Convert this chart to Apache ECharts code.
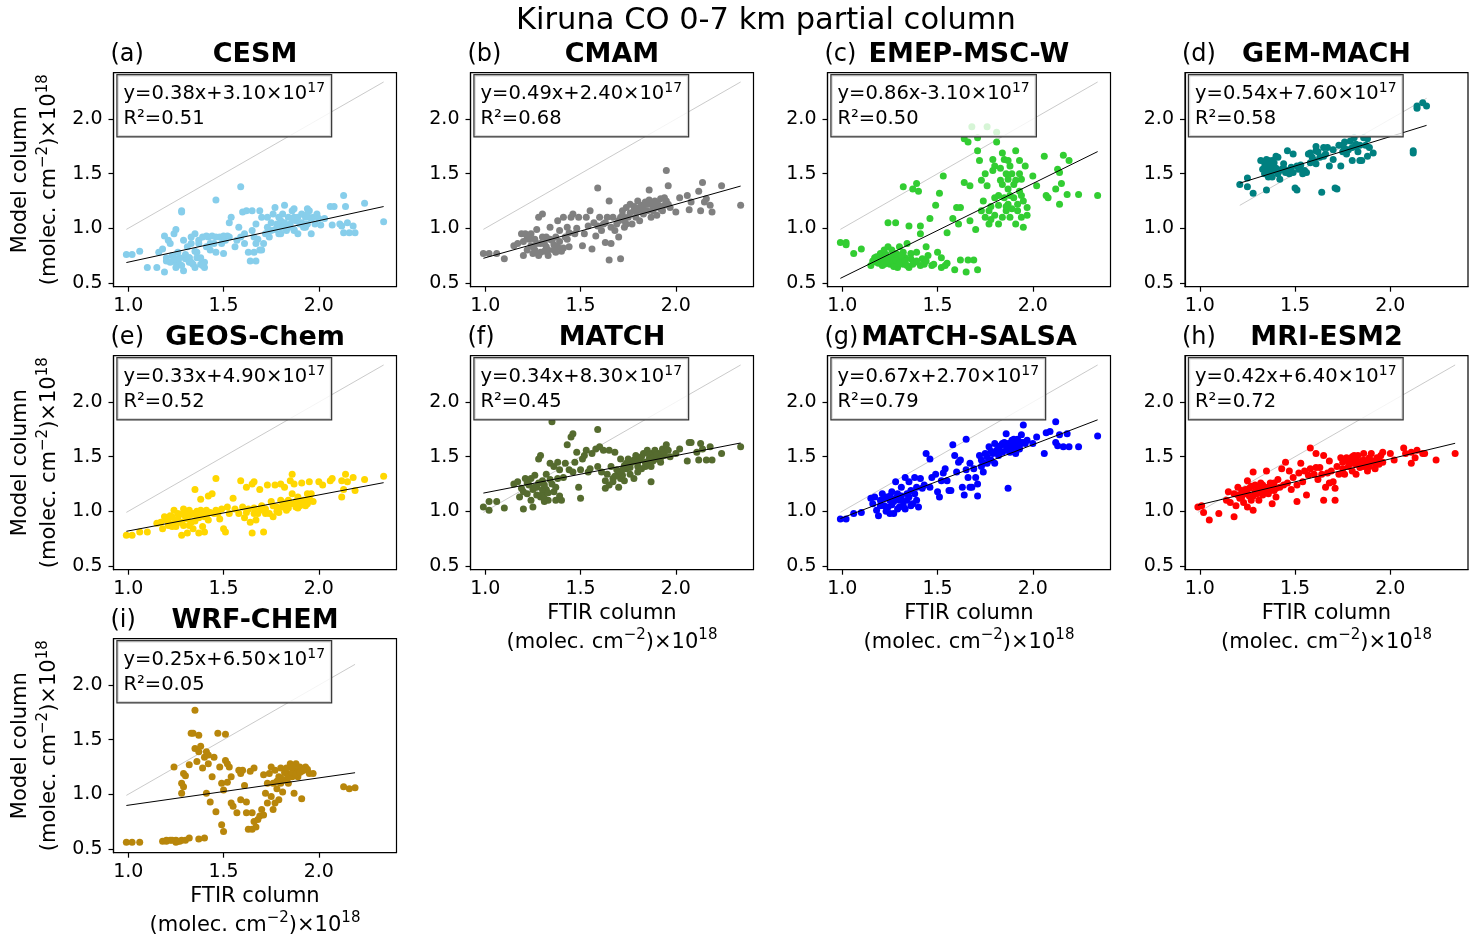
<!DOCTYPE html>
<html>
<head>
<meta charset="utf-8">
<script src="https://cdn.jsdelivr.net/npm/echarts@6/dist/echarts.min.js"></script>
<style>
html, body { margin: 0; padding: 0; background: #fff; }
#chart { width: 1482px; height: 945px; }
</style>
</head>
<body>
<div id="chart"></div>
<script>
// panel descriptions
var models = ["CESM", "CMAM", "EMEP-MSC-W", "GEM-MACH", "GEOS-Chem", "MATCH", "MATCH-SALSA", "MRI-ESM2", "WRF-CHEM"];
var letters = ["(a)", "(b)", "(c)", "(d)", "(e)", "(f)", "(g)", "(h)", "(i)"];
var colors = ["#87CEEB", "#808080", "#32CD32", "#008080", "#FFD700", "#556B2F", "#0000FF", "#FF0000", "#B8860B"];
var slopes = [0.38, 0.49, 0.86, 0.54, 0.33, 0.34, 0.67, 0.42, 0.25];
var intercepts = [3.10, 2.40, -3.10, 7.60, 4.90, 8.30, 2.70, 6.40, 6.50]; // x10^17
var r2 = ["0.51", "0.68", "0.50", "0.58", "0.52", "0.45", "0.79", "0.72", "0.05"];
var xTicks = [1.0, 1.5, 2.0];
var yTicks = [0.5, 1.0, 1.5, 2.0];

// [FTIR, model] in 10^18 molec/cm2
var cesm = [[0.99,0.76],[1.02,0.76],[1.06,0.79],[1.10,0.64],[1.15,0.64],[1.16,0.78],[1.18,0.81],[1.19,0.60],[1.19,0.93],[1.20,0.70],[1.21,0.89],[1.22,0.86],[1.23,0.75],[1.24,0.95],[1.24,0.73],[1.25,0.99],[1.25,0.69],[1.26,0.78],[1.27,0.67],[1.28,1.15],[1.28,1.16],[1.29,0.89],[1.29,0.61],[1.30,0.72],[1.31,0.83],[1.32,0.69],[1.32,0.73],[1.33,0.86],[1.34,0.67],[1.35,0.79],[1.35,0.95],[1.36,0.73],[1.37,0.89],[1.38,0.67],[1.39,0.92],[1.40,0.64],[1.40,0.69],[1.41,0.83],[1.42,0.92],[1.43,0.80],[1.44,0.93],[1.45,0.86],[1.46,1.26],[1.46,0.78],[1.48,0.92],[1.49,0.86],[1.50,0.77],[1.51,0.89],[1.52,0.93],[1.53,1.05],[1.54,1.10],[1.56,0.83],[1.57,0.89],[1.58,1.01],[1.59,1.38],[1.59,0.92],[1.60,1.15],[1.61,0.95],[1.62,1.16],[1.63,0.78],[1.64,0.70],[1.65,0.98],[1.65,1.16],[1.66,0.78],[1.67,0.70],[1.67,1.04],[1.68,0.90],[1.69,1.16],[1.69,0.80],[1.70,1.10],[1.71,0.86],[1.72,0.95],[1.73,1.10],[1.73,1.01],[1.74,0.92],[1.75,0.98],[1.76,1.13],[1.77,1.19],[1.78,1.04],[1.79,0.95],[1.80,1.07],[1.80,1.01],[1.81,1.13],[1.82,1.21],[1.83,0.98],[1.84,1.10],[1.85,1.04],[1.86,1.16],[1.87,0.98],[1.87,1.10],[1.88,1.07],[1.89,0.95],[1.90,1.04],[1.91,1.13],[1.92,1.01],[1.93,1.10],[1.94,1.18],[1.94,1.04],[1.95,1.16],[1.96,0.95],[1.97,1.10],[1.98,1.04],[1.99,1.13],[2.00,1.09],[2.01,1.03],[2.03,1.09],[2.06,1.20],[2.07,1.03],[2.08,1.20],[2.11,1.04],[2.12,1.02],[2.13,0.96],[2.13,1.30],[2.14,1.20],[2.15,1.05],[2.16,0.96],[2.18,1.02],[2.19,0.96],[2.24,1.23],[2.34,1.06],
    [1.20,0.73],[1.22,0.69],[1.24,0.72],[1.25,0.64],[1.27,0.73],[1.28,0.66],[1.30,0.76],[1.32,0.73],[1.33,0.69],[1.35,0.64],[1.36,0.78],[1.38,0.73],[1.39,0.66],[1.33,0.92],[1.37,0.86],[1.41,0.93],[1.43,0.86],[1.46,0.92],[1.50,0.93],[1.53,0.92],[1.73,0.95],[1.75,1.05],[1.77,0.99],[1.79,1.10],[1.80,0.95],[1.82,1.05],[1.84,1.01],[1.86,1.09],[1.87,0.99],[1.89,1.10],[1.91,1.05],[1.93,1.01],[1.94,1.13],[1.96,1.09],[1.87,1.18],[1.81,1.01],[1.61,0.86],[1.67,0.86],[1.70,0.80],[1.66,0.92]];
var cmam = [[0.99,0.77],[1.02,0.77],[1.06,0.77],[1.10,0.72],[1.15,0.84],[1.17,0.86],[1.19,0.95],[1.20,0.75],[1.21,0.95],[1.22,0.80],[1.23,0.90],[1.24,0.95],[1.25,0.83],[1.25,0.77],[1.26,0.90],[1.27,0.99],[1.28,1.10],[1.28,0.75],[1.29,0.86],[1.30,1.13],[1.31,0.79],[1.32,0.92],[1.32,0.83],[1.33,0.75],[1.34,1.01],[1.35,0.89],[1.36,0.80],[1.37,0.92],[1.38,0.83],[1.38,1.07],[1.39,0.98],[1.40,0.79],[1.41,1.10],[1.42,0.92],[1.43,1.01],[1.44,0.83],[1.45,1.10],[1.46,1.13],[1.47,0.95],[1.49,1.10],[1.51,0.84],[1.52,0.95],[1.53,1.10],[1.55,1.16],[1.56,0.81],[1.58,0.93],[1.59,1.37],[1.59,1.02],[1.60,1.10],[1.61,0.98],[1.62,1.04],[1.63,0.87],[1.64,1.10],[1.65,0.71],[1.65,1.25],[1.66,1.01],[1.66,0.86],[1.67,1.10],[1.68,0.98],[1.69,1.04],[1.70,0.92],[1.71,1.10],[1.71,0.72],[1.72,1.16],[1.73,1.07],[1.73,1.01],[1.74,1.19],[1.75,1.10],[1.76,1.22],[1.77,1.04],[1.78,1.16],[1.79,1.10],[1.80,1.25],[1.80,1.16],[1.81,1.07],[1.82,1.21],[1.83,1.13],[1.84,1.24],[1.85,1.16],[1.86,1.35],[1.87,1.10],[1.87,1.22],[1.88,1.16],[1.89,1.25],[1.90,1.12],[1.91,1.21],[1.92,1.27],[1.93,1.16],[1.94,1.28],[1.94,1.21],[1.95,1.53],[1.96,1.39],[1.97,1.19],[2.00,1.15],[2.02,1.28],[2.06,1.30],[2.07,1.17],[2.08,1.24],[2.12,1.34],[2.13,1.16],[2.14,1.42],[2.15,1.24],[2.16,1.27],[2.18,1.21],[2.19,1.15],[2.24,1.39],[2.34,1.21],
    [1.20,0.88],[1.22,0.92],[1.24,0.84],[1.26,0.80],[1.27,0.86],[1.29,0.78],[1.30,0.92],[1.31,0.86],[1.33,0.80],[1.34,0.90],[1.36,0.85],[1.37,0.78],[1.39,0.88],[1.41,0.82],[1.43,0.90],[1.44,0.96],[1.48,1.00],[1.54,1.02],[1.57,1.05],[1.63,1.05],[1.70,1.07],[1.72,1.12],[1.74,1.04],[1.76,1.14],[1.78,1.20],[1.81,1.19],[1.83,1.18],[1.85,1.22],[1.88,1.20],[1.90,1.23],[1.92,1.18],[1.95,1.25],[1.96,1.22],[1.89,1.19],[1.86,1.26]];
var emep = [[0.99,0.87],[1.02,0.87],[1.02,0.85],[1.06,0.77],[1.10,0.81],[1.15,0.66],[1.17,0.73],[1.18,0.69],[1.20,0.77],[1.21,0.66],[1.22,0.80],[1.23,0.72],[1.24,1.05],[1.24,0.83],[1.25,0.67],[1.25,0.73],[1.26,0.80],[1.27,0.69],[1.28,1.05],[1.28,0.77],[1.29,0.64],[1.30,0.83],[1.31,0.72],[1.32,1.38],[1.32,0.78],[1.32,0.67],[1.33,0.73],[1.34,0.86],[1.35,1.02],[1.35,0.64],[1.36,0.77],[1.37,1.36],[1.38,0.69],[1.39,1.41],[1.39,0.78],[1.40,1.34],[1.41,0.95],[1.41,1.02],[1.42,0.72],[1.43,0.67],[1.44,0.83],[1.45,0.75],[1.46,1.09],[1.47,0.66],[1.49,1.21],[1.50,0.78],[1.51,1.32],[1.52,0.64],[1.53,1.48],[1.52,0.73],[1.55,0.96],[1.55,0.68],[1.58,1.09],[1.59,0.62],[1.60,1.19],[1.61,1.04],[1.62,1.19],[1.62,0.71],[1.64,1.82],[1.64,1.42],[1.65,0.60],[1.66,0.71],[1.66,1.79],[1.67,1.39],[1.67,1.07],[1.68,1.93],[1.69,0.71],[1.70,0.99],[1.71,1.83],[1.71,1.71],[1.71,0.62],[1.72,1.62],[1.73,1.16],[1.73,1.44],[1.74,1.25],[1.75,1.50],[1.75,1.10],[1.76,1.93],[1.76,1.39],[1.77,1.04],[1.77,1.16],[1.79,1.53],[1.79,1.63],[1.80,1.28],[1.80,1.57],[1.81,1.88],[1.81,1.79],[1.82,1.21],[1.82,1.04],[1.83,1.44],[1.84,1.69],[1.84,1.10],[1.85,1.63],[1.85,1.28],[1.86,1.50],[1.86,1.16],[1.87,1.62],[1.87,1.36],[1.87,1.22],[1.88,1.57],[1.88,1.10],[1.89,1.50],[1.90,1.28],[1.91,1.04],[1.91,1.71],[1.91,1.44],[1.92,1.16],[1.93,1.62],[1.93,1.34],[1.94,1.10],[1.94,1.45],[1.95,1.25],[1.95,1.01],[1.96,1.57],[1.97,1.19],[1.97,1.12],[2.00,1.48],[2.02,1.39],[2.06,1.66],[2.07,1.30],[2.08,1.28],[2.12,1.36],[2.13,1.54],[2.14,1.22],[2.14,1.51],[2.15,1.41],[2.16,1.67],[2.18,1.31],[2.19,1.62],[2.24,1.31],[2.34,1.30],
    [1.16,0.70],[1.18,0.74],[1.19,0.68],[1.21,0.72],[1.22,0.67],[1.23,0.76],[1.24,0.70],[1.26,0.74],[1.27,0.65],[1.28,0.71],[1.29,0.76],[1.30,0.68],[1.31,0.75],[1.33,0.70],[1.34,0.66],[1.36,0.72],[1.37,0.67],[1.39,0.70],[1.41,0.66],[1.44,0.70],[1.48,0.67],[1.54,0.66],[1.78,1.20],[1.80,1.12],[1.82,1.30],[1.84,1.40],[1.86,1.20],[1.88,1.30],[1.89,1.18],[1.90,1.40],[1.92,1.22],[1.93,1.50],[1.94,1.30],[1.78,1.08],[1.83,1.55],[1.87,1.45]];
var gem = [[1.21,1.40],[1.25,1.46],[1.25,1.38],[1.28,1.32],[1.32,1.62],[1.33,1.54],[1.34,1.60],[1.34,1.50],[1.35,1.63],[1.35,1.56],[1.35,1.35],[1.36,1.47],[1.36,1.59],[1.37,1.53],[1.38,1.62],[1.38,1.47],[1.39,1.56],[1.40,1.66],[1.41,1.50],[1.41,1.65],[1.42,1.45],[1.43,1.54],[1.44,1.59],[1.45,1.51],[1.46,1.71],[1.47,1.50],[1.48,1.56],[1.49,1.68],[1.49,1.51],[1.50,1.37],[1.51,1.35],[1.51,1.57],[1.52,1.54],[1.54,1.50],[1.55,1.53],[1.56,1.51],[1.57,1.68],[1.58,1.60],[1.58,1.69],[1.59,1.65],[1.61,1.71],[1.61,1.59],[1.61,1.75],[1.62,1.70],[1.63,1.65],[1.64,1.33],[1.65,1.74],[1.66,1.68],[1.67,1.74],[1.68,1.57],[1.70,1.63],[1.71,1.37],[1.72,1.36],[1.73,1.76],[1.74,1.57],[1.75,1.70],[1.75,1.76],[1.76,1.79],[1.77,1.68],[1.78,1.72],[1.79,1.80],[1.80,1.62],[1.81,1.83],[1.82,1.77],[1.82,1.75],[1.83,1.70],[1.84,1.62],[1.85,1.62],[1.86,1.83],[1.87,1.76],[1.88,1.82],[1.88,1.66],[1.89,1.74],[1.91,1.69],[2.12,1.69],[2.12,1.71],[2.14,2.10],[2.14,2.12],[2.17,2.15],[2.19,2.12],
    [1.34,1.56],[1.35,1.52],[1.36,1.62],[1.37,1.56],[1.38,1.52],[1.39,1.60],[1.40,1.55],[1.42,1.53],[1.44,1.55],[1.46,1.53],[1.53,1.58],[1.60,1.62],[1.65,1.66],[1.70,1.72],[1.76,1.73],[1.80,1.74],[1.84,1.76]];
var geos = [[0.99,0.78],[1.02,0.78],[1.06,0.81],[1.10,0.81],[1.15,0.89],[1.17,0.90],[1.18,0.84],[1.19,0.95],[1.20,0.92],[1.21,0.87],[1.22,0.96],[1.23,0.86],[1.24,1.01],[1.25,0.92],[1.25,0.86],[1.26,0.98],[1.27,0.90],[1.28,0.78],[1.29,1.02],[1.29,0.87],[1.30,0.95],[1.31,0.80],[1.32,1.01],[1.33,0.90],[1.34,0.98],[1.34,0.84],[1.35,1.20],[1.36,0.95],[1.37,0.80],[1.38,1.01],[1.38,1.11],[1.39,0.86],[1.40,0.95],[1.40,0.81],[1.41,1.01],[1.42,0.92],[1.42,1.14],[1.44,1.16],[1.45,0.98],[1.46,1.30],[1.46,1.01],[1.48,0.93],[1.49,1.02],[1.50,0.84],[1.51,0.81],[1.52,1.04],[1.53,0.98],[1.55,1.12],[1.56,1.02],[1.58,0.98],[1.59,1.28],[1.60,1.04],[1.61,0.94],[1.62,1.22],[1.63,1.02],[1.64,0.90],[1.65,0.80],[1.65,1.25],[1.66,1.27],[1.66,0.98],[1.67,0.92],[1.69,1.20],[1.69,1.01],[1.70,1.05],[1.71,0.81],[1.72,0.98],[1.73,1.24],[1.74,0.98],[1.75,1.09],[1.76,0.95],[1.77,1.24],[1.78,1.04],[1.79,0.99],[1.80,1.10],[1.80,1.25],[1.81,1.04],[1.82,1.22],[1.83,1.01],[1.84,1.10],[1.85,1.28],[1.86,1.34],[1.86,1.16],[1.87,1.07],[1.87,1.25],[1.88,1.04],[1.89,1.13],[1.90,1.05],[1.91,1.26],[1.92,1.10],[1.93,1.05],[1.94,1.16],[1.94,1.07],[1.95,1.27],[1.96,1.16],[1.97,1.09],[2.00,1.27],[2.02,1.24],[2.06,1.28],[2.07,1.30],[2.12,1.28],[2.12,1.13],[2.13,1.20],[2.14,1.34],[2.15,1.27],[2.18,1.31],[2.19,1.19],[2.24,1.29],[2.34,1.32],
    [1.21,0.92],[1.23,0.95],[1.24,0.89],[1.26,0.93],[1.27,0.97],[1.28,0.90],[1.30,0.99],[1.31,0.93],[1.32,0.87],[1.33,0.97],[1.35,0.91],[1.36,1.00],[1.37,0.94],[1.39,0.97],[1.41,0.96],[1.43,0.99],[1.47,0.98],[1.62,0.99],[1.66,1.03],[1.68,0.98],[1.72,1.02],[1.76,1.05],[1.78,1.00],[1.81,1.08],[1.83,1.05],[1.85,1.07],[1.88,1.09],[1.90,1.10],[1.92,1.08],[1.95,1.12],[1.89,1.03],[1.84,1.03]];
var match = [[0.99,1.04],[1.02,1.09],[1.02,1.01],[1.06,1.09],[1.10,1.03],[1.15,1.25],[1.17,1.27],[1.18,1.13],[1.19,1.21],[1.20,1.02],[1.21,1.30],[1.22,1.16],[1.23,1.24],[1.24,1.10],[1.25,1.20],[1.25,1.04],[1.26,1.33],[1.27,1.22],[1.28,1.48],[1.29,1.13],[1.29,1.51],[1.30,1.28],[1.30,1.16],[1.31,1.09],[1.32,1.34],[1.32,1.20],[1.33,1.10],[1.34,1.44],[1.35,1.25],[1.35,1.82],[1.36,1.41],[1.37,1.10],[1.38,1.30],[1.38,1.45],[1.39,1.38],[1.40,1.10],[1.41,1.31],[1.42,1.44],[1.43,1.61],[1.44,1.38],[1.45,1.68],[1.46,1.71],[1.46,1.36],[1.47,1.45],[1.48,1.54],[1.49,1.22],[1.50,1.38],[1.50,1.12],[1.51,1.48],[1.52,1.51],[1.53,1.56],[1.54,1.36],[1.55,1.39],[1.56,1.53],[1.58,1.57],[1.59,1.75],[1.59,1.41],[1.60,1.59],[1.61,1.36],[1.62,1.56],[1.63,1.21],[1.63,1.28],[1.64,1.34],[1.65,1.56],[1.65,1.24],[1.66,1.41],[1.67,1.30],[1.67,1.27],[1.68,1.54],[1.69,1.38],[1.70,1.22],[1.71,1.30],[1.71,1.48],[1.72,1.33],[1.73,1.42],[1.73,1.28],[1.74,1.39],[1.75,1.48],[1.76,1.34],[1.77,1.45],[1.78,1.30],[1.79,1.51],[1.80,1.41],[1.80,1.36],[1.81,1.47],[1.82,1.39],[1.83,1.53],[1.84,1.45],[1.85,1.56],[1.86,1.48],[1.87,1.41],[1.87,1.27],[1.87,1.53],[1.88,1.46],[1.89,1.56],[1.90,1.48],[1.91,1.53],[1.92,1.45],[1.93,1.57],[1.94,1.51],[1.94,1.54],[1.95,1.61],[1.96,1.56],[1.97,1.50],[2.00,1.53],[2.02,1.57],[2.06,1.46],[2.07,1.63],[2.08,1.63],[2.11,1.54],[2.12,1.47],[2.13,1.62],[2.14,1.57],[2.16,1.47],[2.18,1.59],[2.19,1.47],[2.24,1.53],[2.34,1.59],
    [1.20,1.18],[1.22,1.26],[1.24,1.30],[1.26,1.22],[1.27,1.15],[1.28,1.26],[1.30,1.20],[1.31,1.24],[1.33,1.17],[1.34,1.29],[1.36,1.18],[1.37,1.22],[1.39,1.14],[1.31,1.12],[1.74,1.44],[1.76,1.40],[1.78,1.47],[1.80,1.45],[1.82,1.50],[1.84,1.41],[1.86,1.52],[1.88,1.49],[1.90,1.52],[1.92,1.49],[1.85,1.44],[1.70,1.35],[1.68,1.32],[1.72,1.38]];
var salsa = [[0.99,0.93],[1.02,0.93],[1.06,0.98],[1.10,0.99],[1.15,1.12],[1.16,1.07],[1.17,1.13],[1.18,1.01],[1.19,0.96],[1.20,1.10],[1.21,1.16],[1.22,1.05],[1.23,1.13],[1.24,1.04],[1.25,1.10],[1.25,0.98],[1.26,1.18],[1.27,1.09],[1.28,1.27],[1.29,1.02],[1.29,1.16],[1.30,1.10],[1.31,1.22],[1.32,1.05],[1.33,1.31],[1.34,1.16],[1.34,1.10],[1.35,1.27],[1.36,1.19],[1.37,1.07],[1.38,1.31],[1.39,1.22],[1.40,1.04],[1.41,1.30],[1.42,1.21],[1.43,1.24],[1.44,1.53],[1.46,1.48],[1.46,1.22],[1.47,1.31],[1.49,1.34],[1.50,1.18],[1.51,1.13],[1.52,1.28],[1.53,1.35],[1.54,1.39],[1.55,1.28],[1.56,1.19],[1.57,1.19],[1.58,1.61],[1.59,1.51],[1.60,1.36],[1.61,1.45],[1.62,1.47],[1.63,1.22],[1.64,1.15],[1.65,1.66],[1.65,1.38],[1.66,1.31],[1.67,1.22],[1.67,1.44],[1.68,1.22],[1.69,1.39],[1.70,1.31],[1.71,1.25],[1.71,1.14],[1.72,1.51],[1.73,1.41],[1.73,1.47],[1.74,1.36],[1.75,1.53],[1.76,1.44],[1.77,1.59],[1.78,1.47],[1.79,1.53],[1.80,1.62],[1.80,1.44],[1.81,1.56],[1.82,1.51],[1.83,1.60],[1.84,1.54],[1.85,1.63],[1.86,1.71],[1.86,1.56],[1.87,1.21],[1.87,1.62],[1.88,1.54],[1.89,1.65],[1.90,1.59],[1.91,1.53],[1.92,1.66],[1.93,1.57],[1.94,1.63],[1.94,1.70],[1.95,1.79],[1.96,1.62],[1.97,1.65],[2.00,1.62],[2.02,1.68],[2.06,1.53],[2.07,1.72],[2.09,1.73],[2.12,1.82],[2.12,1.63],[2.13,1.60],[2.14,1.70],[2.16,1.59],[2.18,1.71],[2.19,1.59],[2.24,1.59],[2.34,1.69],
    [1.20,1.05],[1.22,1.12],[1.23,1.00],[1.25,1.14],[1.26,1.06],[1.27,0.98],[1.28,1.12],[1.30,1.04],[1.31,1.14],[1.32,1.09],[1.33,1.02],[1.35,1.13],[1.36,1.05],[1.38,1.16],[1.39,1.10],[1.82,1.58],[1.84,1.62],[1.86,1.60],[1.88,1.62],[1.89,1.58],[1.91,1.62],[1.92,1.57],[1.93,1.60],[1.95,1.63],[1.90,1.66],[1.78,1.55],[1.76,1.50],[1.74,1.44]];
var mri = [[0.99,1.04],[1.01,1.05],[1.02,0.99],[1.05,0.92],[1.10,0.98],[1.14,1.10],[1.15,1.18],[1.16,1.08],[1.18,1.16],[1.18,0.95],[1.19,1.05],[1.20,1.22],[1.21,1.12],[1.22,1.19],[1.23,1.08],[1.24,1.16],[1.25,1.28],[1.25,1.04],[1.26,1.14],[1.27,1.23],[1.27,1.10],[1.28,1.36],[1.28,1.01],[1.29,1.18],[1.30,1.23],[1.31,1.10],[1.32,1.20],[1.32,1.26],[1.33,1.15],[1.34,1.22],[1.35,1.37],[1.36,1.16],[1.37,1.26],[1.38,1.07],[1.39,1.19],[1.39,1.26],[1.40,1.13],[1.41,1.29],[1.42,1.22],[1.43,1.39],[1.44,1.24],[1.45,1.45],[1.46,1.26],[1.47,1.37],[1.48,1.20],[1.49,1.31],[1.51,1.09],[1.51,1.24],[1.52,1.35],[1.53,1.44],[1.54,1.27],[1.55,1.37],[1.56,1.15],[1.57,1.33],[1.58,1.39],[1.58,1.58],[1.60,1.34],[1.61,1.40],[1.61,1.53],[1.62,1.29],[1.63,1.40],[1.64,1.34],[1.65,1.10],[1.65,1.51],[1.66,1.22],[1.67,1.35],[1.68,1.26],[1.68,1.46],[1.69,1.37],[1.70,1.27],[1.71,1.21],[1.71,1.10],[1.72,1.41],[1.73,1.34],[1.74,1.49],[1.75,1.39],[1.75,1.45],[1.76,1.34],[1.77,1.49],[1.78,1.41],[1.79,1.46],[1.80,1.37],[1.81,1.51],[1.82,1.43],[1.82,1.34],[1.83,1.51],[1.84,1.40],[1.85,1.46],[1.86,1.53],[1.87,1.43],[1.88,1.37],[1.89,1.49],[1.89,1.41],[1.90,1.53],[1.91,1.46],[1.92,1.39],[1.93,1.49],[1.94,1.43],[1.95,1.51],[1.96,1.45],[1.96,1.54],[2.00,1.53],[2.02,1.47],[2.07,1.58],[2.08,1.53],[2.11,1.54],[2.11,1.44],[2.13,1.49],[2.14,1.56],[2.17,1.53],[2.18,1.53],[2.24,1.47],[2.34,1.53],
    [1.20,1.15],[1.22,1.13],[1.24,1.20],[1.25,1.16],[1.26,1.21],[1.28,1.14],[1.29,1.24],[1.30,1.16],[1.31,1.20],[1.33,1.24],[1.34,1.18],[1.36,1.22],[1.37,1.19],[1.38,1.24],[1.40,1.21],[1.78,1.46],[1.80,1.44],[1.82,1.48],[1.84,1.45],[1.86,1.47],[1.88,1.44],[1.90,1.46],[1.92,1.44],[1.94,1.48],[1.86,1.41],[1.80,1.50]];
var wrf = [[0.99,0.56],[1.02,0.56],[1.06,0.56],[1.18,0.57],[1.20,0.58],[1.22,0.58],[1.25,0.58],[1.25,0.56],[1.27,0.57],[1.28,0.58],[1.30,0.58],[1.32,0.60],[1.37,0.59],[1.40,0.60],[1.24,1.25],[1.28,1.10],[1.28,1.01],[1.29,1.19],[1.29,1.07],[1.30,1.17],[1.32,1.27],[1.33,1.56],[1.34,1.56],[1.35,1.77],[1.35,1.42],[1.36,1.30],[1.37,1.54],[1.37,1.39],[1.38,1.44],[1.39,1.24],[1.40,1.34],[1.41,1.39],[1.41,1.01],[1.42,1.36],[1.42,1.28],[1.43,0.93],[1.44,1.16],[1.45,1.34],[1.46,0.84],[1.47,1.56],[1.48,1.25],[1.49,0.72],[1.49,1.10],[1.50,1.04],[1.50,0.66],[1.51,1.31],[1.51,1.55],[1.52,1.28],[1.52,1.11],[1.53,1.25],[1.54,1.16],[1.54,0.92],[1.55,0.89],[1.57,0.83],[1.58,1.22],[1.59,0.95],[1.59,1.19],[1.60,1.22],[1.61,1.08],[1.62,0.93],[1.62,0.83],[1.63,0.68],[1.64,1.21],[1.65,0.68],[1.65,0.83],[1.66,0.75],[1.66,1.24],[1.67,0.70],[1.68,0.77],[1.69,0.80],[1.70,0.86],[1.71,1.18],[1.71,0.81],[1.72,1.01],[1.73,1.10],[1.73,0.92],[1.74,1.19],[1.75,1.25],[1.75,0.98],[1.76,0.86],[1.76,1.10],[1.77,0.92],[1.77,1.22],[1.78,1.05],[1.79,1.16],[1.79,0.95],[1.80,1.10],[1.80,1.24],[1.81,1.02],[1.82,1.13],[1.83,1.19],[1.84,1.10],[1.85,1.25],[1.85,1.28],[1.86,1.16],[1.87,1.01],[1.87,1.22],[1.88,1.28],[1.89,1.16],[1.89,1.22],[1.90,1.25],[1.91,0.96],[1.91,1.21],[1.93,1.25],[1.94,1.23],[1.95,1.19],[1.97,1.19],[2.13,1.07],[2.16,1.05],[2.19,1.06],
    [1.80,1.15],[1.82,1.20],[1.84,1.16],[1.86,1.20],[1.88,1.18],[1.90,1.20],[1.83,1.24],[1.86,1.25],[1.78,1.12],[1.92,1.22],[1.20,0.57],[1.23,0.58],[1.26,0.57]];

var panelData = [cesm, cmam, emep, gem, geos, match, salsa, mri, wrf];

// layout (px)
var colLeft = [113.5, 470.5, 827.5, 1185];
var rowTop = [72.7, 355.7, 638.7];
var W = 283, H = 214;
var FONT = "DejaVu Sans";

var grids = [], xAxes = [], yAxes = [], series = [], graphics = [];

var eqRich = {
    t: { fontSize: 19.5, fontFamily: FONT, fill: "#000", lineHeight: 25 },
    sup: { fontSize: 14, fontFamily: FONT, fill: "#000", lineHeight: 16, verticalAlign: "top" }
};
var labRich = {
    u: { fontSize: 21, fontFamily: FONT, fill: "#000", lineHeight: 29 },
    s: { fontSize: 15, fontFamily: FONT, fill: "#000", lineHeight: 19, verticalAlign: "top" }
};

panelData.forEach(function (pts, i) {
    var c = i % 4, r = Math.floor(i / 4);
    var L = colLeft[c], T = rowTop[r];
    grids.push({ left: L, top: T, width: W, height: H, show: true, borderColor: "#000", borderWidth: 1.2 });
    xAxes.push({
        type: "value", gridIndex: i, min: 0.9225, max: 2.4075,
        splitLine: { show: false },
        axisLine: { show: true, onZero: false, lineStyle: { color: "#000", width: 1.2 } },
        axisTick: { show: true, length: 5, customValues: xTicks, lineStyle: { color: "#000", width: 1.2 } },
        axisLabel: { customValues: xTicks, formatter: function (v) { return v.toFixed(1); }, color: "#000", fontSize: 19, fontFamily: FONT, margin: 10 }
    });
    yAxes.push({
        type: "value", gridIndex: i, min: 0.465, max: 2.425,
        splitLine: { show: false },
        axisLine: { show: true, onZero: false, lineStyle: { color: "#000", width: 1.2 } },
        axisTick: { show: true, length: 5, customValues: yTicks, lineStyle: { color: "#000", width: 1.2 } },
        axisLabel: { customValues: yTicks, formatter: function (v) { return v.toFixed(1); }, color: "#000", fontSize: 19, fontFamily: FONT, margin: 11 }
    });

    var xs = pts.map(function (p) { return p[0]; });
    var x0 = Math.min.apply(null, xs), x1 = Math.max.apply(null, xs);
    var b = intercepts[i] / 10;

    // 1:1 line
    series.push({
        type: "line", xAxisIndex: i, yAxisIndex: i, symbol: "none", silent: true, z: 1,
        lineStyle: { color: "#bdbdbd", width: 0.8 },
        data: [[x0, x0], [x1, x1]]
    });
    series.push({
        type: "scatter", xAxisIndex: i, yAxisIndex: i, symbolSize: 7, z: 2,
        itemStyle: { color: colors[i], opacity: 1 },
        data: pts
    });
    // regression line
    series.push({
        type: "line", xAxisIndex: i, yAxisIndex: i, symbol: "none", silent: true, z: 3,
        lineStyle: { color: "#000", width: 1 },
        data: [[x0, slopes[i] * x0 + b], [x1, slopes[i] * x1 + b]]
    });

    // titles
    graphics.push({
        type: "text", x: L - 3, y: T - 18,
        style: { text: letters[i], fontSize: 24, fontFamily: FONT, fill: "#000", align: "left", verticalAlign: "middle" }
    });
    graphics.push({
        type: "text", x: L + W / 2, y: T - 18,
        style: { text: models[i], fontSize: 27, fontWeight: "bold", fontFamily: FONT, fill: "#000", align: "center", verticalAlign: "middle" }
    });

    // equation box (semi-transparent like the source)
    var eq = "{t|y=" + slopes[i].toFixed(2) + "x" + (intercepts[i] < 0 ? "-" : "+") +
        Math.abs(intercepts[i]).toFixed(2) + "×10}{sup|17}\n{t|R²=" + r2[i] + "}";
    graphics.push({
        type: "text", x: L + 4, y: T + 2.5, z: 100,
        style: {
            text: eq, rich: eqRich, fontSize: 19.5, fontFamily: FONT, fill: "#000",
            backgroundColor: "rgba(255,255,255,0.8)", borderColor: "#333", borderWidth: 1.2, padding: [6, 6, 5, 6]
        }
    });

    // y label on left column
    if (c === 0) {
        graphics.push({
            type: "text", x: 35.5, y: T + H / 2, rotation: Math.PI / 2,
            style: {
                text: "{u|Model column}\n{u|(molec. cm}{s|−2}{u|)×10}{s|18}",
                rich: labRich, align: "center", verticalAlign: "middle"
            }
        });
    }
    // x label on bottom panels
    if (i >= 5) {
        graphics.push({
            type: "text", x: L + W / 2, y: T + H + 29,
            style: {
                text: "{u|FTIR column}\n{u|(molec. cm}{s|−2}{u|)×10}{s|18}",
                rich: labRich, align: "center", verticalAlign: "top"
            }
        });
    }
});

graphics.push({
    type: "text", x: 766, y: 21,
    style: { text: "Kiruna CO 0-7 km partial column", fontSize: 30.5, fontFamily: FONT, fill: "#000", align: "center", verticalAlign: "middle" }
});

var chart = echarts.init(document.getElementById("chart"), null, { renderer: "canvas" });
chart.setOption({
    backgroundColor: "#fff",
    animation: false,
    grid: grids,
    xAxis: xAxes,
    yAxis: yAxes,
    series: series,
    graphic: graphics
});
</script>
</body>
</html>
